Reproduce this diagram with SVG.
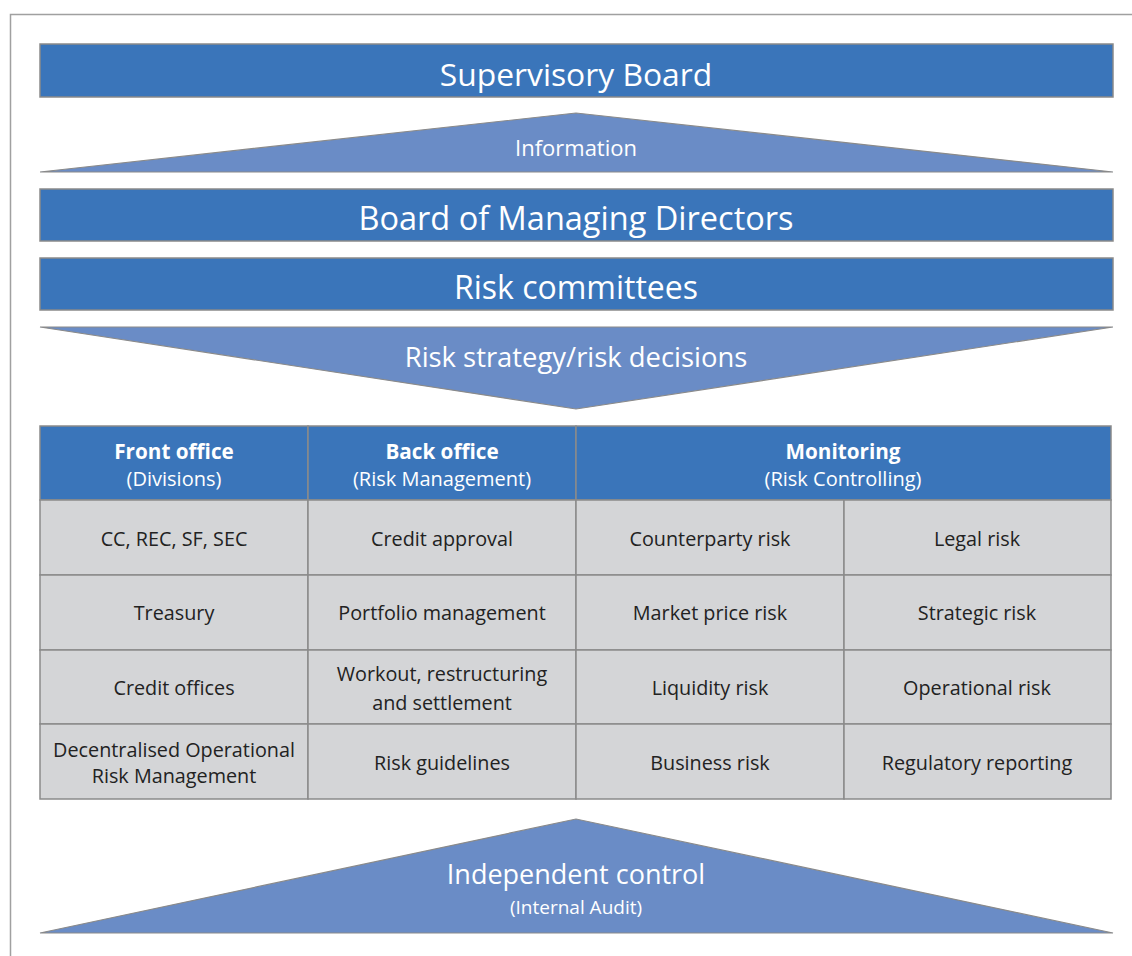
<svg xmlns="http://www.w3.org/2000/svg" width="1132" height="956" viewBox="0 0 1132 956">
<style>
.bar{fill:#3A75BA;stroke:#8A8A8A;stroke-width:1.5}
.tri{fill:#6A8CC6;stroke:#8A8A8A;stroke-width:1.2}
.hd{fill:#3A75BA;stroke:#8A8A8A;stroke-width:1.5}
.cell{fill:#D4D5D7;stroke:#8A8A8A;stroke-width:1.5}
text{font-family:"Open Sans","Noto Sans","Liberation Sans",sans-serif;text-anchor:middle}
.w{fill:#fff}
.k{fill:#222;font-size:19.8px}
.hb{font-size:20.7px;font-weight:bold}
.hs{font-size:20px}
</style>
<rect x="0" y="0" width="1132" height="956" fill="#fff"/>
<path d="M10.5 956 V14.5 H1132" fill="none" stroke="#A0A0A0" stroke-width="1.5"/>
<g id="supervisory-board">
<rect class="bar" x="40" y="44" width="1073" height="53"/>
<text class="w" x="576" y="86" font-size="31.8">Supervisory Board</text>
</g>
<g id="information">
<polygon class="tri" points="40,172 576,113 1113,172"/>
<text class="w" x="576" y="156" font-size="22">Information</text>
</g>
<g id="board-md">
<rect class="bar" x="40" y="189" width="1073" height="52"/>
<text class="w" x="576" y="230" font-size="32.5">Board of Managing Directors</text>
</g>
<g id="risk-committees">
<rect class="bar" x="40" y="258" width="1073" height="52"/>
<text class="w" x="576" y="299" font-size="32">Risk committees</text>
</g>
<g id="risk-strategy">
<polygon class="tri" points="40,327 1113,327 576,409"/>
<text class="w" x="576" y="367" font-size="27.4">Risk strategy/risk decisions</text>
</g>
<g id="table">
<rect class="hd" x="40" y="426" width="268" height="74"/>
<rect class="hd" x="308" y="426" width="268" height="74"/>
<rect class="hd" x="576" y="426" width="535" height="74"/>
<text class="w hb" x="174" y="459">Front office</text>
<text class="w hs" x="174" y="486">(Divisions)</text>
<text class="w hb" x="442" y="459">Back office</text>
<text class="w hs" x="442" y="486">(Risk Management)</text>
<text class="w hb" x="843" y="459">Monitoring</text>
<text class="w hs" x="843" y="486">(Risk Controlling)</text>
<g id="row1">
<rect class="cell" x="40" y="500" width="268" height="75"/>
<rect class="cell" x="308" y="500" width="268" height="75"/>
<rect class="cell" x="576" y="500" width="268" height="75"/>
<rect class="cell" x="844" y="500" width="267" height="75"/>
<text class="k" x="174" y="546">CC, REC, SF, SEC</text>
<text class="k" x="442" y="546">Credit approval</text>
<text class="k" x="710" y="546">Counterparty risk</text>
<text class="k" x="977" y="546">Legal risk</text>
</g>
<g id="row2">
<rect class="cell" x="40" y="575" width="268" height="75"/>
<rect class="cell" x="308" y="575" width="268" height="75"/>
<rect class="cell" x="576" y="575" width="268" height="75"/>
<rect class="cell" x="844" y="575" width="267" height="75"/>
<text class="k" x="174" y="620">Treasury</text>
<text class="k" x="442" y="620">Portfolio management</text>
<text class="k" x="710" y="620">Market price risk</text>
<text class="k" x="977" y="620">Strategic risk</text>
</g>
<g id="row3">
<rect class="cell" x="40" y="650" width="268" height="74"/>
<rect class="cell" x="308" y="650" width="268" height="74"/>
<rect class="cell" x="576" y="650" width="268" height="74"/>
<rect class="cell" x="844" y="650" width="267" height="74"/>
<text class="k" x="174" y="695">Credit offices</text>
<text class="k" x="442" y="681">Workout, restructuring</text>
<text class="k" x="442" y="710">and settlement</text>
<text class="k" x="710" y="695">Liquidity risk</text>
<text class="k" x="977" y="695">Operational risk</text>
</g>
<g id="row4">
<rect class="cell" x="40" y="724" width="268" height="75"/>
<rect class="cell" x="308" y="724" width="268" height="75"/>
<rect class="cell" x="576" y="724" width="268" height="75"/>
<rect class="cell" x="844" y="724" width="267" height="75"/>
<text class="k" x="174" y="757">Decentralised Operational</text>
<text class="k" x="174" y="783">Risk Management</text>
<text class="k" x="442" y="770">Risk guidelines</text>
<text class="k" x="710" y="770">Business risk</text>
<text class="k" x="977" y="770">Regulatory reporting</text>
</g>
</g>
<g id="independent-control">
<polygon class="tri" points="40,933 576,819 1113,933"/>
<text class="w" x="576" y="884" font-size="27">Independent control</text>
<text class="w" x="576" y="914" font-size="19">(Internal Audit)</text>
</g>
</svg>
